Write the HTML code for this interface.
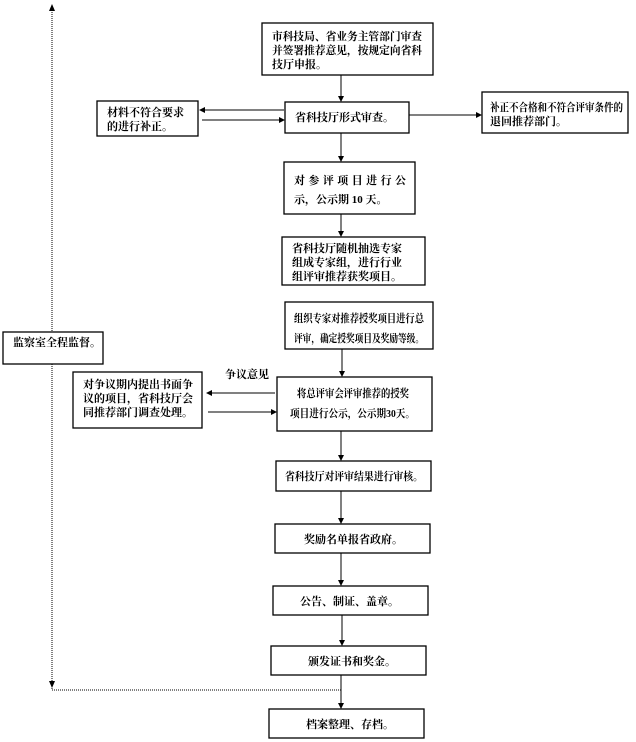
<!DOCTYPE html>
<html><head><meta charset="utf-8"><style>
html,body{margin:0;padding:0;background:#fff;}
svg{display:block;}
text{font-family:"Liberation Serif","Noto Serif CJK SC","Noto Sans CJK SC",serif;font-size:11px;font-weight:bold;fill:#000;}
rect{fill:#fff;stroke:#000;stroke-width:1.3;}
line{stroke:#000;stroke-width:1;}
.d{stroke-dasharray:1,1;}
</style></head><body>
<svg width="636" height="742" viewBox="0 0 636 742">
<defs><marker id="a" markerWidth="6" markerHeight="6" refX="5" refY="3" orient="auto"><path d="M0,0L6,3L0,6z" fill="#000"/></marker></defs>
<line class="d" x1="52" y1="10" x2="52" y2="690"/>
<line class="d" x1="52" y1="690" x2="341" y2="690"/>
<path d="M49,11L52,4L55,11z"/>
<path d="M49,681L52,688L55,681z"/>
<rect x="262" y="23" width="171" height="52"/>
<text x="272" y="40" textLength="150" lengthAdjust="spacingAndGlyphs">市科技局、省业务主管部门审查</text>
<text x="272" y="54" textLength="150" lengthAdjust="spacingAndGlyphs">并签署推荐意见，按规定向省科</text>
<text x="272" y="68">技厅申报。</text>
<rect x="97" y="101" width="101" height="35"/>
<text x="107" y="116">材料不符合要求</text>
<text x="107" y="130">的进行补正。</text>
<rect x="285" y="102" width="124" height="31"/>
<text x="295" y="121">省科技厅形式审查。</text>
<rect x="482" y="92" width="146" height="41"/>
<text x="490" y="111" textLength="133" lengthAdjust="spacingAndGlyphs">补正不合格和不符合评审条件的</text>
<text x="490" y="125">退回推荐部门。</text>
<rect x="284" y="162" width="131" height="52"/>
<text x="294" y="184" textLength="112">对参评项目进行公</text>
<text x="294" y="203">示，公示期 10 天。</text>
<rect x="282" y="237" width="143" height="48"/>
<text x="292" y="252">省科技厅随机抽选专家</text>
<text x="292" y="266">组成专家组，进行行业</text>
<text x="292" y="280">组评审推荐获奖项目。</text>
<rect x="3" y="332" width="100" height="32"/>
<text x="13" y="346">监察室全程监督。</text>
<rect x="285" y="302" width="148" height="47"/>
<text x="294" y="322" textLength="130" lengthAdjust="spacingAndGlyphs">组织专家对推荐授奖项目进行总</text>
<text x="294" y="342" textLength="130" lengthAdjust="spacingAndGlyphs">评审，确定授奖项目及奖励等级。</text>
<text x="225" y="378">争议意见</text>
<rect x="73" y="372" width="129" height="56"/>
<text x="83" y="388">对争议期内提出书面争</text>
<text x="83" y="402">议的项目，省科技厅会</text>
<text x="83" y="416">同推荐部门调查处理。</text>
<rect x="277" y="377" width="155" height="54"/>
<text x="297" y="397" textLength="112" lengthAdjust="spacingAndGlyphs">将总评审会评审推荐的授奖</text>
<text x="290" y="417" textLength="125" lengthAdjust="spacingAndGlyphs">项目进行公示，公示期30天。</text>
<rect x="276" y="461" width="155" height="30"/>
<text x="285" y="480" textLength="138" lengthAdjust="spacingAndGlyphs">省科技厅对评审结果进行审核。</text>
<rect x="275" y="524" width="155" height="29"/>
<text x="304" y="543">奖励名单报省政府。</text>
<rect x="273" y="586" width="155" height="29"/>
<text x="300" y="605">公告、制证、盖章。</text>
<rect x="271" y="646" width="155" height="29"/>
<text x="308" y="665">颁发证书和奖金。</text>
<rect x="269" y="709" width="155" height="29"/>
<text x="306" y="728">档案整理、存档。</text>
<g marker-end="url(#a)">
<line x1="341" y1="75" x2="341" y2="101"/>
<line x1="284" y1="110" x2="200" y2="110"/>
<line x1="202" y1="120" x2="284" y2="120"/>
<line x1="409" y1="115" x2="481" y2="115"/>
<line x1="341" y1="133" x2="341" y2="161"/>
<line x1="341" y1="214" x2="341" y2="236"/>
<line x1="342" y1="349" x2="342" y2="376"/>
<line x1="275" y1="393" x2="207" y2="393"/>
<line x1="208" y1="412" x2="276" y2="412"/>
<line x1="341" y1="431" x2="341" y2="460"/>
<line x1="341" y1="491" x2="341" y2="523"/>
<line x1="341" y1="553" x2="341" y2="585"/>
<line x1="342" y1="615" x2="342" y2="645"/>
<line x1="341" y1="675" x2="341" y2="708"/>
</g>
</svg>
</body></html>
